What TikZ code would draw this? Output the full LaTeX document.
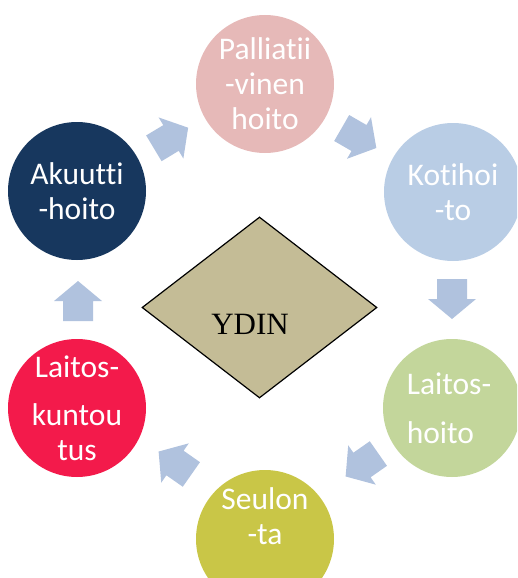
\documentclass[tikz,border=0pt]{standalone}
\usepackage{fontspec}
\setmainfont[Ligatures=NoCommon]{Carlito}
\newfontfamily\serifcore{Liberation Serif}
\usetikzlibrary{shapes.geometric}
\definecolor{pinkc}{HTML}{E6B9B8}
\definecolor{bluec}{HTML}{B9CDE5}
\definecolor{greenc}{HTML}{C3D69B}
\definecolor{olivec}{HTML}{C9C647}
\definecolor{redc}{HTML}{F31A4B}
\definecolor{navyc}{HTML}{17375E}
\definecolor{arrowc}{HTML}{B0C2DE}
\definecolor{corec}{HTML}{C4BC96}
\begin{document}
\begin{tikzpicture}[x=1pt,y=-1pt,
  stage/.style={circle,minimum size=138pt,inner sep=0pt,draw=none},
  stagetext/.style={text=white,align=center,inner sep=0pt,
    font=\fontsize{31.5}{35}\selectfont},
  core/.style={diamond,draw=black,line width=1.2pt,fill=corec,
    minimum width=235pt,minimum height=181pt,inner sep=0pt},
  pics/cyclearrow/.style={code={
    \fill[arrowc] (-20,-15) -- (0,-15) -- (0,-24) -- (20,0)
      -- (0,24) -- (0,15) -- (-20,15) -- cycle;}}]
\useasboundingbox (0,0) rectangle (517,578);
\begin{scope}
\clip (0,0) rectangle (517,578);

% stage circles
\node[stage,fill=pinkc]  (palli)  at (265,84)  {};
\node[stage,fill=bluec]  (koti)   at (453,192) {};
\node[stage,fill=greenc] (lhoito) at (452,408) {};
\node[stage,fill=olivec] (seul)   at (265,539) {};
\node[stage,fill=redc]   (lkunt)  at (77,408)  {};
\node[stage,fill=navyc]  (akuut)  at (77,191)  {};

% stage labels
\node[stagetext] (palliT)  at (palli)   {Palliatii\\-vinen\\hoito};
\node[stagetext] (kotiT)   at (koti)    {Kotihoi\\-to};
\node[stagetext,align=left] (lhoitoT) at (449,408) {Laitos-\\[14pt]hoito};
\node[stagetext] (seulT)   at (265,516) {Seulon\\-ta};
\node[stagetext] (lkuntT)  at (lkunt)   {Laitos-\\[13pt]kuntou\\tus};
\node[stagetext] (akuutT)  at (akuut)   {Akuutti\\-hoito};

% centre
\node[core] (ydin) at (259.5,307.5) {};
\node[anchor=base,inner sep=0pt,font=\serifcore\fontsize{31}{36}\selectfont]
  (ydinT) at (250,334) {YDIN};

% cycle arrows
\pic at (171,138) [rotate=31]   {cyclearrow};
\pic at (359,138) [rotate=-30]  {cyclearrow};
\pic at (452,299) [rotate=-90]  {cyclearrow};
\pic at (362,465) [rotate=-145] {cyclearrow};
\pic at (175,463) [rotate=145]  {cyclearrow};
\pic at (78,301)  [rotate=90]   {cyclearrow};
\end{scope}
\end{tikzpicture}
\end{document}
